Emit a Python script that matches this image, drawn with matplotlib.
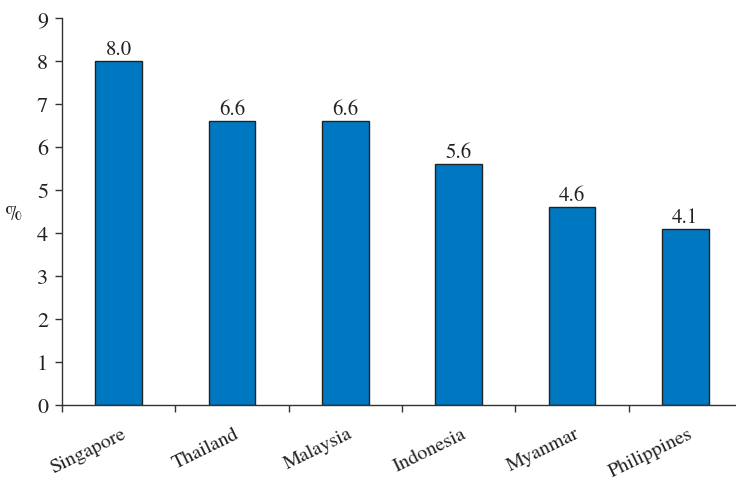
import matplotlib.pyplot as plt

countries = ["Singapore", "Thailand", "Malaysia", "Indonesia", "Myanmar", "Philippines"]
values = [8.0, 6.6, 6.6, 5.6, 4.6, 4.1]

plt.rcParams["font.family"] = ["TeX Gyre Termes", "STIXGeneral", "DejaVu Serif"]
plt.rcParams["font.size"] = 15

fig = plt.figure(figsize=(7.36, 4.81), dpi=100)
W, H = 736, 481
left, right, bottom, top = 62, 742, 406, 19
ax = fig.add_axes([left / W, 1 - bottom / H, (right - left) / W, (bottom - top) / H])

x = list(range(len(countries)))
ax.bar(x, values, width=0.41, color="#0078C1", edgecolor="#222222", linewidth=1)
for xi, v in zip(x, values):
    ax.text(xi, v + 0.05, f"{v:.1f}", ha="center", va="bottom", fontsize=15, color="#222222")

ax.set_xlim(-0.5, len(countries) - 0.5)
ax.set_ylim(0, 9)
ax.set_yticks(range(10))
ax.set_xticks([i - 0.5 for i in range(len(countries) + 1)])
ax.set_xticklabels([])
ax.tick_params(axis="both", direction="out", length=5, width=1, color="#333333", labelcolor="#222222")
ax.tick_params(axis="y", labelsize=16, pad=5)

for xi, name in zip(x, countries):
    ax.text(xi + 0.02, -0.45, name, rotation=26, rotation_mode="anchor", ha="right", va="top",
            fontsize=14.5, color="#222222")

for s in ["top", "right"]:
    ax.spines[s].set_visible(False)
for s in ["left", "bottom"]:
    ax.spines[s].set_color("#333333")
    ax.spines[s].set_linewidth(1)

fig.text(14 / W, 1 - 215 / H, "%", ha="center", va="center", fontsize=15, color="#222222")

fig.savefig("out.png", dpi=100)
